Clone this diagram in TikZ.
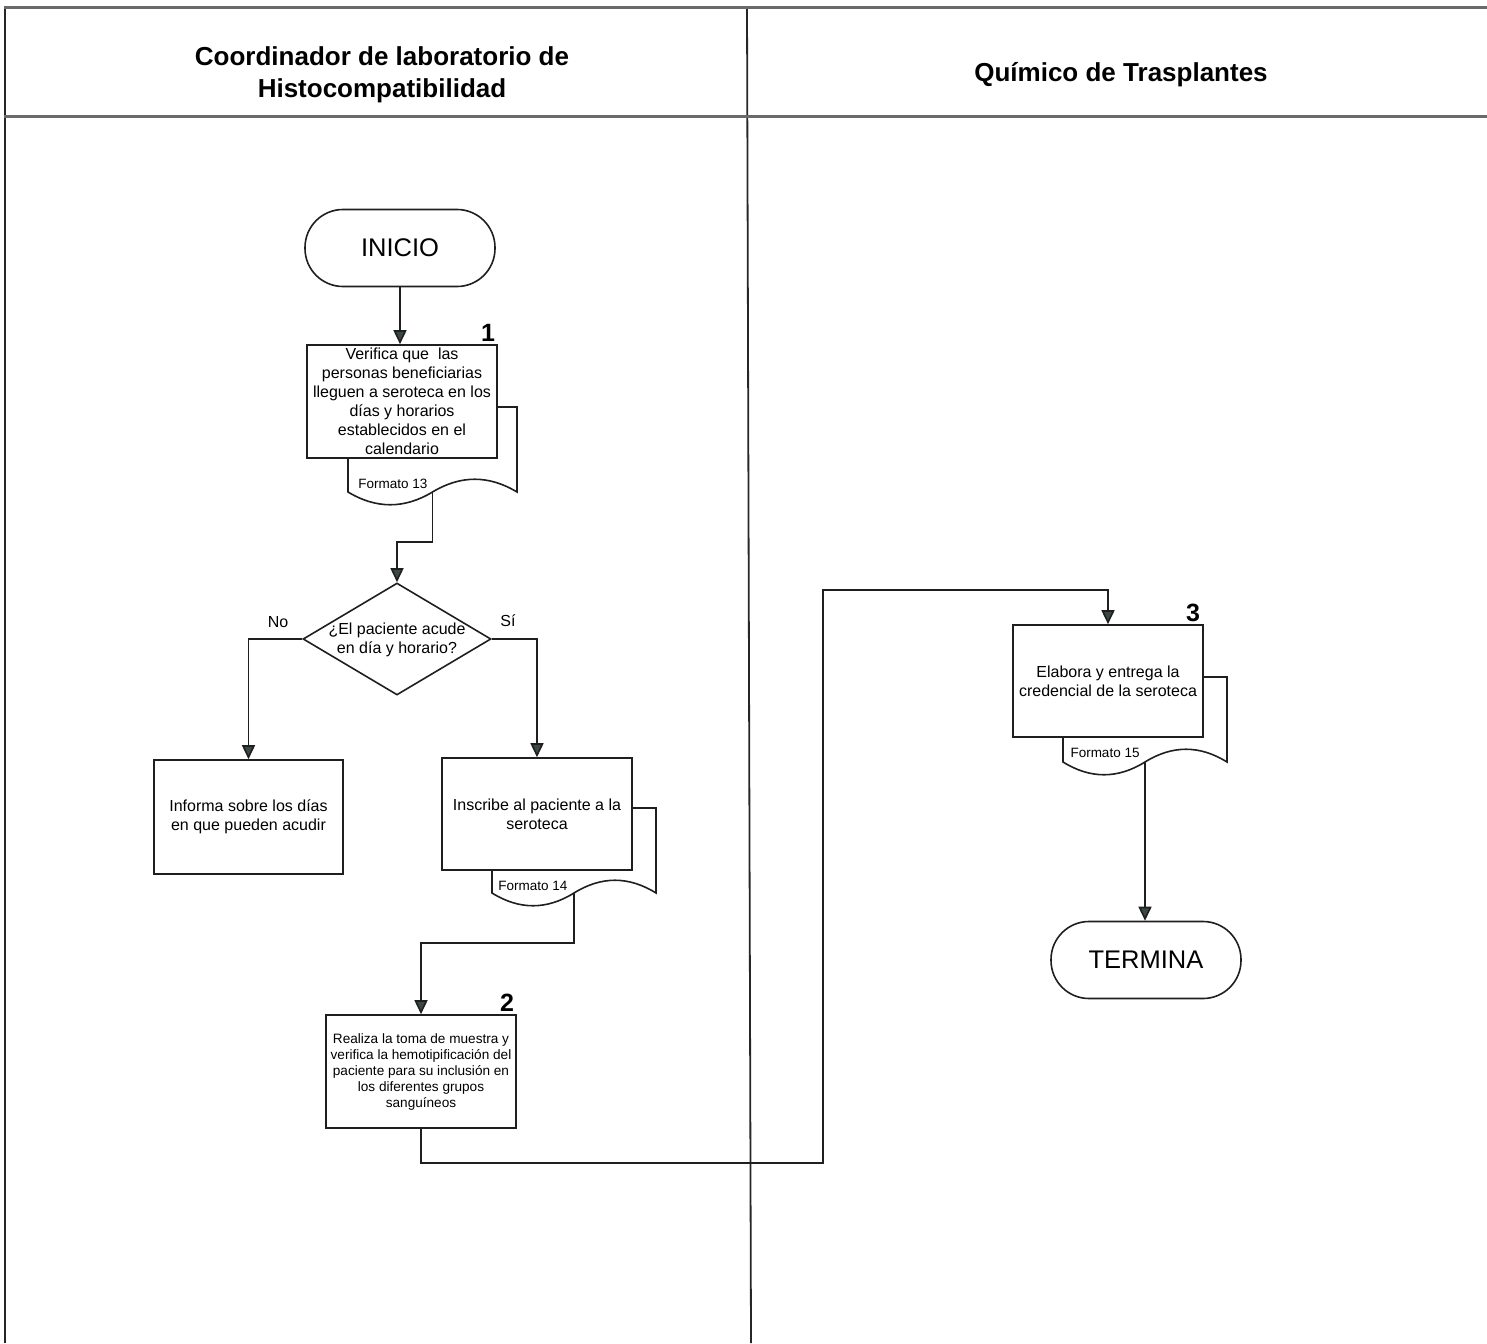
\documentclass[tikz,border=0pt]{standalone}
\usepackage{fontspec}
\setmainfont{Liberation Sans}
\usetikzlibrary{arrows.meta,shapes.geometric}
\definecolor{arrowc}{HTML}{3A4848}
\definecolor{hdrline}{HTML}{6A6A6A}
\newcommand\docback[5]{% L R T B name
  \pgfmathsetmacro\dbW{#2-#1}\pgfmathsetmacro\dbM{(#1+#2)/2}%
  \draw[ln,fill=white] (#1,#3) -- (#2,#3) -- (#2,#4)
    .. controls (#2-\dbW/6,#4-17) and (\dbM+\dbW/6,#4-17) .. (\dbM,#4)
    .. controls (\dbM-\dbW/6,#4+17) and (#1+\dbW/6,#4+17) .. (#1,#4) -- cycle;
  \coordinate (#5) at (\dbM,#4);}
\begin{document}
\begin{tikzpicture}[x=1pt,y=-1pt,
  ln/.style={line width=1.6pt, draw=black!88},
  arr/.style={ln,-{Triangle[width=13pt,length=14pt,fill=arrowc]}},
  box/.style={ln,fill=white,rectangle,inner sep=1pt,align=center,
     font=\fontsize{16}{19}\selectfont},
  term/.style={ln,fill=white,rectangle,rounded corners=38pt,minimum width=190pt,
     minimum height=77pt,font=\fontsize{25.5}{30}\selectfont},
  hdr/.style={align=center,font=\bfseries\fontsize{26}{32}\selectfont},
  num/.style={font=\bfseries\fontsize{25}{25}\selectfont},
  fmt/.style={font=\fontsize{13.5}{15}\selectfont,inner sep=0pt},
  lbl/.style={font=\fontsize{16}{18}\selectfont,inner sep=0pt},
  frame/.style={line width=1.8pt,draw=black!85},
  hline/.style={line width=3pt,draw=hdrline}]
\useasboundingbox (0,0) rectangle (1487,1343);
% frame
\draw[frame] (5,1343) -- (5,8);
\draw[frame] (747,8) -- (751,1343);
\draw[hline] (4,8) -- (1487,8);
\draw[hline] (4,117) -- (1487,117);
\node[hdr] (h1) at (382,75) {Coordinador de laboratorio de\\Histocompatibilidad};
\node[hdr] (h2) at (1121,75) {Químico de Trasplantes};
% start
\node[term] (ini) at (400,248) {INICIO};
% box 1
\docback{348}{517}{407}{492}{c1}
\node[box,minimum width=190pt,minimum height=113pt] (b1) at (402,401.5)
 {Verifica que\ \ las\\personas beneficiarias\\lleguen a seroteca en los\\días y horarios\\establecidos en el\\calendario};
\node[fmt] (f1) at (393,484) {Formato 13};
\node[num] (n1) at (488,333) {1};
% decision
\node[ln,fill=white,diamond,inner sep=0pt,minimum width=188pt,minimum height=112pt] (d) at (397,639) {};
\node[lbl,align=center,font=\fontsize{16}{19}\selectfont] (dt) at (397,640) {¿El paciente acude\\en día y horario?};
\node[lbl] (no) at (278,622) {No};
\node[lbl] (si) at (508,621) {Sí};
% informa
\node[box,minimum width=189pt,minimum height=114pt] (inf) at (248.5,817) {Informa sobre los días\\en que pueden acudir};
% inscribe
\docback{492}{656}{808}{893}{c2}
\node[box,minimum width=190pt,minimum height=112pt] (ins) at (537,814) {Inscribe al paciente a la\\seroteca};
\node[fmt] (f2) at (533,886) {Formato 14};
% realiza
\node[box,minimum width=190pt,minimum height=113pt,font=\fontsize{13.6}{16}\selectfont] (rea) at (421,1071.5)
 {Realiza la toma de muestra y\\verifica la hemotipificación del\\paciente para su inclusión en\\los diferentes grupos\\sanguíneos};
\node[num] (n2) at (507,1003) {2};
% box 3
\docback{1063}{1227}{677}{762}{c3}
\node[box,minimum width=190pt,minimum height=112pt] (elab) at (1108,681) {Elabora y entrega la\\credencial de la seroteca};
\node[fmt] (f3) at (1105,753) {Formato 15};
\node[num] (n3) at (1193,613) {3};
% end
\node[term] (fin) at (1146,960) {TERMINA};
% connectors
\draw[arr] (ini.south) -- (ini.south |- b1.north);
\draw[arr] (c1) -- ++(0,50) -| (d.north);
\draw[arr] (d.west) -| (inf.north);
\draw[arr] (d.east) -| (ins.north);
\draw[arr] (c2) -- ++(0,50) -| (rea.north);
\coordinate (j2) at (823,1163);
\coordinate (j3) at (823,590);
\draw[arr] (rea.south) |- (j2) -- (j3) -| (elab.north);
\draw[arr] (c3) -- (c3 |- fin.north);
\end{tikzpicture}
\end{document}
